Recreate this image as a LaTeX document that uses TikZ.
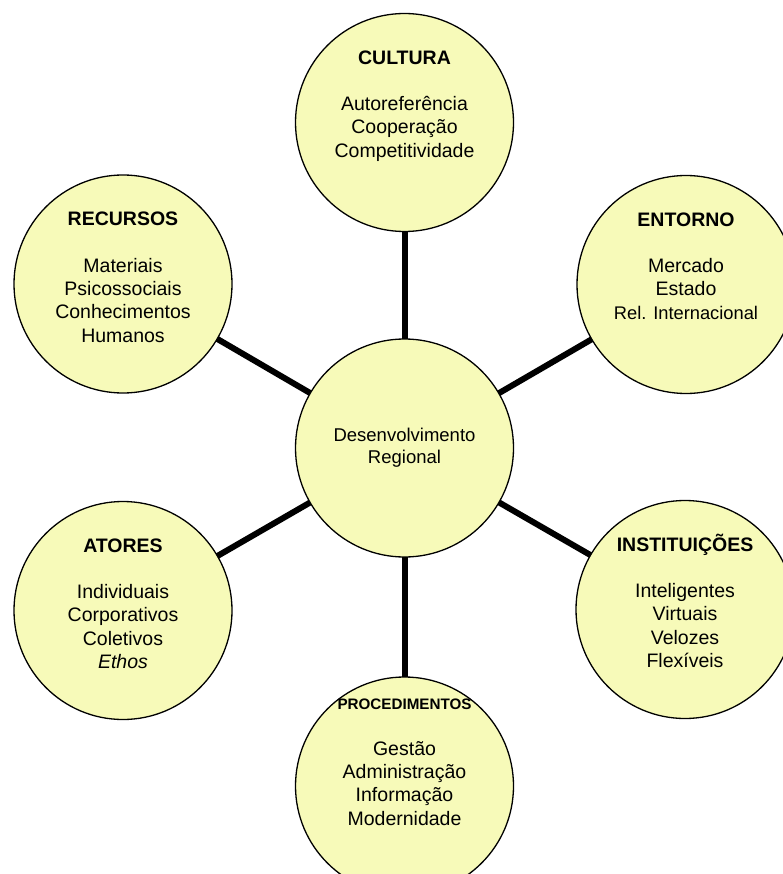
\documentclass[tikz,border=0pt]{standalone}
\usepackage{fontspec}
\setmainfont{Liberation Sans}
\usetikzlibrary{positioning,backgrounds}
\definecolor{paleyellow}{RGB}{247,250,185}

\begin{document}
\begin{tikzpicture}[x=1pt, y=-1pt,
    bubble/.style={draw, circle, line width=1.3pt, fill=paleyellow, minimum size=218pt, inner sep=0pt},
    txt/.style={align=center, inner sep=0pt, font=\fontsize{19.5}{23.3}\selectfont},
    spoke/.style={line width=6pt}]
      \useasboundingbox (0, 0) rectangle (783, 874);
      \clip (0, 0) rectangle (783, 874);
      \node[bubble, align=center, font=\fontsize{18.5}{22}\selectfont] (D) at (404.5, 448) {Desenvolvimento\\Regional};
      \node[bubble] (C) at (404.5, 122.5) {};
      \node[bubble] (R) at (123, 284) {};
      \node[bubble] (E) at (686, 284.5) {};
      \node[bubble] (A) at (123, 610.5) {};
      \node[bubble] (I) at (685, 609.5) {};
      \node[bubble] (P) at (404.5, 786) {};
      \node[txt, below=34.7pt of C.north] (Ct) {\strut\textbf{CULTURA}\\[23.3pt]Autoreferência\\Cooperação\\Competitividade};
      \node[txt, below=34.7pt of R.north] (Rt) {\strut\textbf{RECURSOS}\\[23.3pt]Materiais\\Psicossociais\\Conhecimentos\\Humanos};
      \node[txt, below=34.7pt of E.north] (Et) {\strut\textbf{ENTORNO}\\[23.3pt]Mercado\\Estado\\{\fontsize{18.3}{23.3}\selectfont Rel. Internacional}};
      \node[txt, below=34.7pt of A.north] (At) {\strut\textbf{ATORES}\\[23.3pt]Individuais\\Corporativos\\Coletivos\\\textit{Ethos}};
      \node[txt, below=34.7pt of I.north] (It) {\strut\smash{\textbf{INSTITUIÇÕES}}\\[23.3pt]Inteligentes\\Virtuais\\Velozes\\Flexíveis};
      \node[txt, below=16.7pt of P.north] (Pt) {\strut{\fontsize{15.2}{23.3}\selectfont\bfseries PROCEDIMENTOS}\\[22.5pt]Gestão\\Administração\\Informação\\Modernidade};
      \begin{pgfonlayer}{background}
        \draw[spoke] (D.center) -- (C.center);
        \draw[spoke] (D.center) -- (R.center);
        \draw[spoke] (D.center) -- (E.center);
        \draw[spoke] (D.center) -- (A.center);
        \draw[spoke] (D.center) -- (I.center);
        \draw[spoke] (D.center) -- (P.center);
      \end{pgfonlayer}
    \end{tikzpicture}
\end{document}
